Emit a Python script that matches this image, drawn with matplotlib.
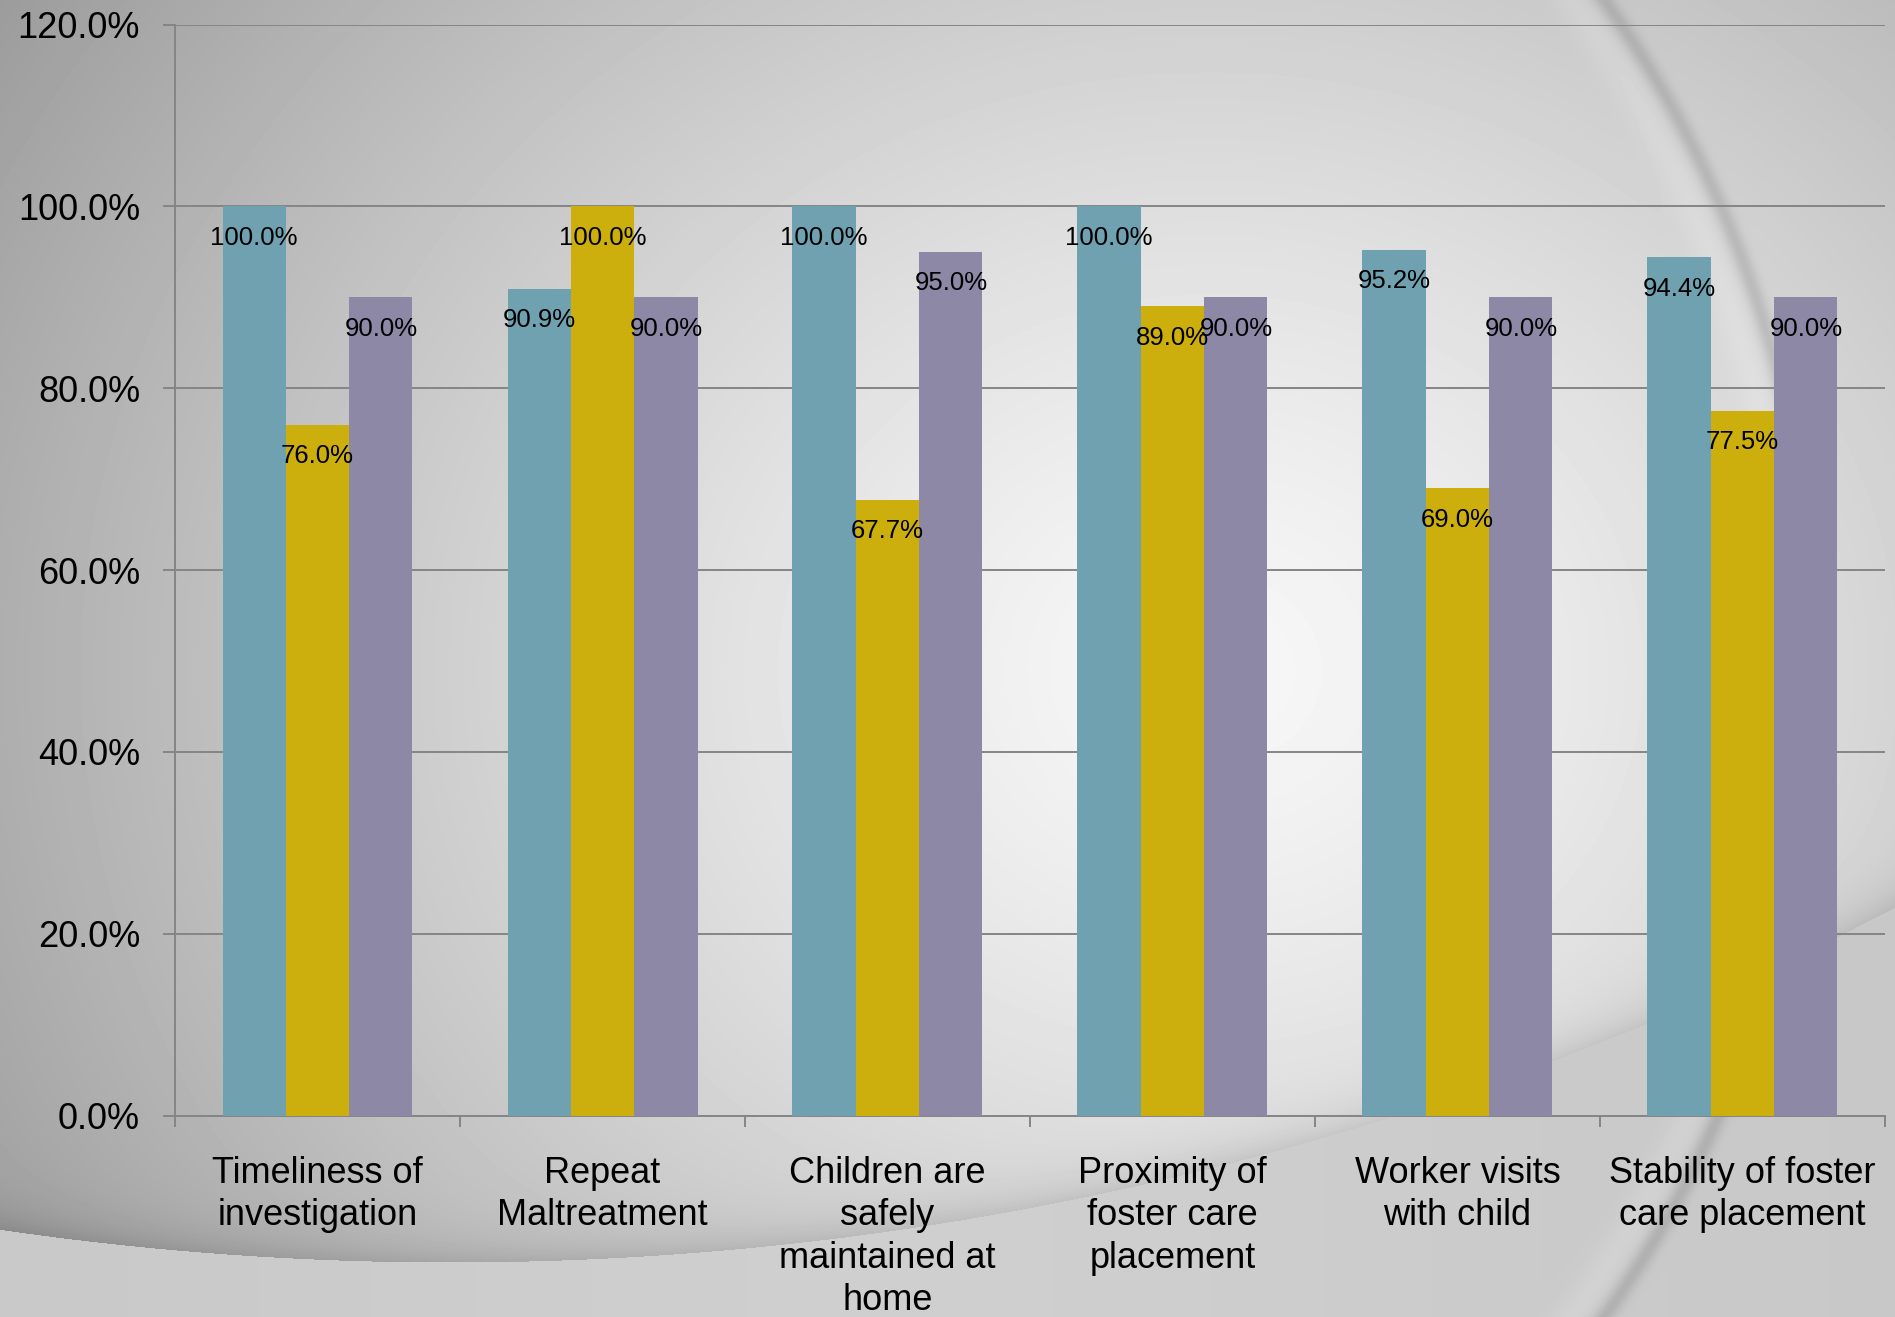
import numpy as np
import matplotlib
matplotlib.use("Agg")
import matplotlib.pyplot as plt

categories = ["Timeliness of\ninvestigation", "Repeat\nMaltreatment",
              "Children are\nsafely\nmaintained at\nhome",
              "Proximity of\nfoster care\nplacement", "Worker visits\nwith child",
              "Stability of foster\ncare placement"]
series_a = [100.0, 90.9, 100.0, 100.0, 95.2, 94.4]
series_b = [76.0, 100.0, 67.7, 89.0, 69.0, 77.5]
series_c = [90.0, 90.0, 95.0, 90.0, 90.0, 90.0]
yticks = [0, 20, 40, 60, 80, 100, 120]

bar_colors = ["#6FA1B0", "#CCAE0C", "#8C88A6"]
line_gray = "#858585"

plt.rcParams['font.family'] = ['Liberation Sans', 'DejaVu Sans']

W, H = 1895, 1317
fig = plt.figure(figsize=(W / 100, H / 100), dpi=100)

# background: radial gray gradient with two soft swooshes
yy, xx = np.mgrid[0:H, 0:W].astype(float)
d = np.hypot(xx - 1210, (yy - 670) * 1.15)
bg = 0.97 - 0.30 * np.clip(d / 1250, 0, 1.3) ** 1.3

# bottom swoosh
d2 = np.hypot(xx - 450, yy + 1856)
inside = 3118 - d2
bg = np.where(inside > 0, bg - 0.09 * np.exp(-inside / 22),
              0.78 + 0.03 * np.exp(-((xx - 900) / 700) ** 2))

# big arc on the right
d1 = np.hypot(xx - 678, yy - 658)
bg -= 0.10 * np.exp(-((d1 - 1136) / 9) ** 2)
bg += 0.03 * np.exp(-((d1 - 1110) / 18) ** 2)

bg = np.clip(bg, 0, 1)
bax = fig.add_axes([0, 0, 1, 1], zorder=-1)
bax.imshow(bg, cmap="gray", vmin=0, vmax=1, extent=(0, W, H, 0), aspect="auto", interpolation="bilinear")
bax.axis("off")

ax = fig.add_axes([175 / W, 1 - 1115.5 / H, 1710 / W, (1115.5 - 24.5) / H])
ax.patch.set_alpha(0)

x = np.arange(len(categories))
w = 2 / 9
for k, vals in enumerate([series_a, series_b, series_c]):
    pos = x + (k - 1) * w
    ax.bar(pos, vals, width=w, color=bar_colors[k], zorder=3)
    for px, v in zip(pos, vals):
        ax.annotate(f"{v:.1f}%", (px, v), xytext=(0, -27.6), textcoords="offset points",
                    ha="center", va="baseline", fontsize=18.5, color="black", zorder=5)

ax.set_xlim(-0.5, len(categories) - 0.5)
ax.set_ylim(0, 120)
ax.set_yticks(yticks)
ax.set_yticklabels([f"{t:.1f}%" for t in yticks])
ax.yaxis.grid(True, color=line_gray, lw=1.4)
ax.set_axisbelow(True)

ax.set_xticks(np.arange(-0.5, len(categories), 1.0))
ax.set_xticklabels([])
ax.set_xticks(x, minor=True)
ax.set_xticklabels(categories, minor=True)
ax.tick_params(axis="x", which="major", length=8, width=1.4, color=line_gray, direction="out")
ax.tick_params(axis="x", which="minor", length=0, pad=29.5, labelsize=26)
ax.tick_params(axis="y", length=8.6, width=1.4, color=line_gray, pad=16.6, labelsize=26)
for lab in ax.get_xticklabels(minor=True):
    lab.set_linespacing(1.26)

for s in ["top", "right"]:
    ax.spines[s].set_visible(False)
for s in ["left", "bottom"]:
    ax.spines[s].set_color(line_gray)
    ax.spines[s].set_linewidth(1.4)

fig.savefig("out.png", dpi=100)
